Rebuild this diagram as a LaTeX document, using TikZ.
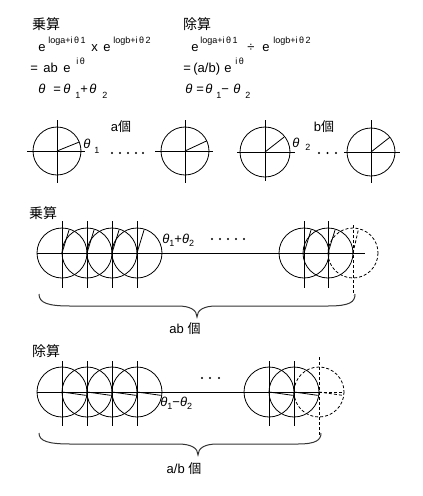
\documentclass[tikz,border=0pt]{standalone}
\usepackage{fontspec}
\setmainfont{Liberation Sans}
\newfontfamily\jp{Noto Sans CJK JP}
\newcommand{\bigf}{\fontsize{13}{13}\selectfont}
\newcommand{\smf}{\fontsize{9}{9}\selectfont}
\newcommand{\tht}{{\itshape θ}}
\newcommand{\subx}[1]{\raisebox{-3.5pt}{\smf #1}}
\begin{document}
\begin{tikzpicture}[x=1pt,y=-1pt,line width=0.8pt,
  t/.style={inner sep=0pt,anchor=base west,font=\bigf},
  sp/.style={inner sep=0pt,anchor=base west,font=\smf},
  jt/.style={inner sep=0pt,font=\jp\fontsize{14}{14}\selectfont},
  lab/.style={inner sep=0pt,font=\bigf},
  dsh/.style={dash pattern=on 3pt off 2pt},
  brc/.style={line width=1pt,black!80}]
\useasboundingbox (0,0) rectangle (423,496);

% ---------- top formulas ----------
\node[jt] (mul1) at (46,24) {乗算};
\node[jt] (div1) at (197,24) {除算};

\node[t] (e1) at (38,51) {e};
\node[sp] (s1) at (48,43) {loga+i\,θ\,1};
\node[t] (x1) at (91,51) {x};
\node[t] (e2) at (103,51) {e};
\node[sp] (s2) at (113,43) {logb+i\,θ\,2};

\node[t] (eq1) at (30,72) {=};
\node[t] (ab1) at (43,72) {ab};
\node[t] (e3) at (63,72) {e};
\node[sp] (s3) at (76,64) {i\,θ};

\node[t] (tA) at (38,93) {\tht};
\node[t] (eqA) at (53,93) {=};
\node[t] (tB) at (63,93) {\tht};
\node[sp] (oneA) at (75,98) {1};
\node[t] (plA) at (80,93) {+};
\node[t] (tC) at (89,93) {\tht};
\node[sp] (twoA) at (102,98) {2};

\node[t] (e4) at (191,51) {e};
\node[sp] (s4) at (200,43) {loga+i\,θ\,1};
\node[t] (dv) at (247,51) {÷};
\node[t] (e5) at (262,51) {e};
\node[sp] (s5) at (273,43) {logb+i\,θ\,2};

\node[t] (eq2) at (183,72) {=};
\node[t] (ab2) at (193,72) {(a/b)};
\node[t] (e6) at (224,72) {e};
\node[sp] (s6) at (235,64) {i\,θ};

\node[t] (tD) at (185,93) {\tht};
\node[t] (eqD) at (196,93) {=};
\node[t] (tE) at (205,93) {\tht};
\node[sp] (oneD) at (216,98) {1};
\node[t] (mnD) at (221,93) {−};
\node[t] (tF) at (233,93) {\tht};
\node[sp] (twoD) at (245,98) {2};

% ---------- row 1 : single circles ----------
% circle A
\draw (57,151) circle[radius=24];
\draw (27,151) -- (85,151);
\draw (57,120) -- (57,183);
\draw (57,151) -- ++(-22:24);
\node[t] (th1) at (83,148) {\tht};
\node[sp] (th1s) at (94,153) {1};
\node[lab] (acnt) at (121,127) {a\jp 個};
\foreach \xx in {112,120,128,136,143} \fill (\xx,153) circle[radius=1.1];
% circle B
\draw (185,151) circle[radius=24];
\draw (155,151) -- (213,151);
\draw (185,120) -- (185,183);
\draw (185,151) -- ++(-25:24);
% circle C
\draw (265,152) circle[radius=25];
\draw (237,152) -- (295,152);
\draw (265,120) -- (265,181);
\draw (265,152) -- ++(-38:24);
\node[t] (th2) at (292,147) {\tht};
\node[sp] (th2s) at (305,150) {2};
\node[lab] (bcnt) at (324,127) {b\jp 個};
\foreach \xx in {319,327.5,336} \fill (\xx,153) circle[radius=1.1];
% circle D
\draw (371,152) circle[radius=24];
\draw (344,152) -- (400,152);
\draw (371,120) -- (371,183);
\draw (371,152) -- ++(-38:24);

% ---------- row 2 : multiplication ----------
\node[jt] (mul2) at (43,213) {乗算};
\draw (37,253) -- (365,253);
\foreach \cx in {62,87,112,137,304,328} {
  \draw (\cx,253) circle[radius=25];
  \draw (\cx,221) -- (\cx,288);
  \draw (\cx,253) -- ++(-73:24);
}
\draw[dsh] (353,253) circle[radius=25];
\draw[dsh] (353,225) -- (353,295);
\draw[dsh] (353,253) -- ++(-77:24);
\node[t] (sumlab) at (162,243) {\tht\subx{1}+\tht\subx{2}};
\foreach \xx in {212,220,228,236,244} \fill (\xx,239) circle[radius=1.1];
\draw[brc] (39,294) .. controls (39,303) and (48,306) .. (70,306)
  -- (178,306) .. controls (190,306) and (197,310) .. (197,317)
  .. controls (197,310) and (204,306) .. (216,306)
  -- (328,306) .. controls (350,306) and (355,302) .. (355,294);
\node[lab] (abcnt) at (185,329) {ab \jp 個};

% ---------- row 3 : division ----------
\node[jt] (div2) at (46,351) {除算};
\draw (37,392) -- (319,392);
\draw[dsh] (319,392) -- (344,392);
\foreach \cx in {62,87,112,137,269,294} {
  \draw (\cx,392) circle[radius=25];
  \draw (\cx,361) -- (\cx,426);
  \draw (\cx,392) -- ++(8:24);
}
\draw[dsh] (319,392) circle[radius=25];
\draw[dsh] (319,357) -- (319,435);
\draw[dsh] (319,392) -- ++(8:24);
\node[t] (diflab) at (160,406) {\tht\subx{1}−\tht\subx{2}};
\foreach \xx in {202,210,219} \fill (\xx,378) circle[radius=1.1];
\draw[brc] (39,433) .. controls (39,441) and (48,444) .. (70,444)
  -- (178,444) .. controls (191,444) and (198,448) .. (198,455)
  .. controls (198,448) and (205,444) .. (217,444)
  -- (298,444) .. controls (316,444) and (321,440) .. (321,433);
\node[lab] (abdcnt) at (184,469) {a/b \jp 個};
\end{tikzpicture}
\end{document}
